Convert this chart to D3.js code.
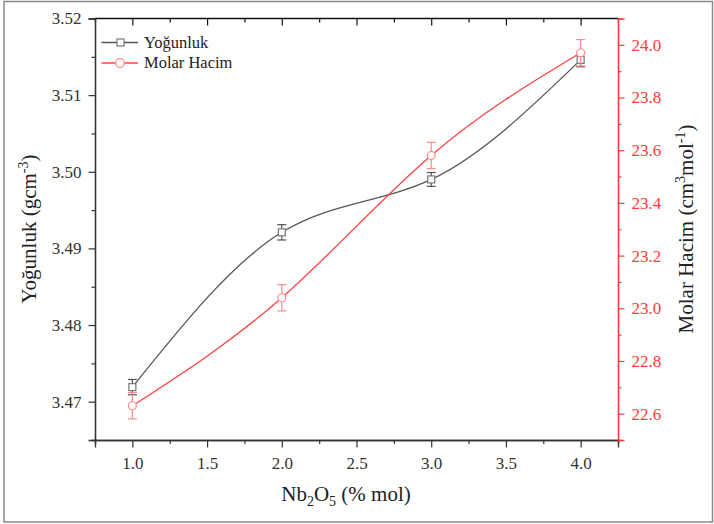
<!DOCTYPE html>
<html>
<head>
<meta charset="utf-8">
<script src="https://cdn.jsdelivr.net/npm/d3@7/dist/d3.min.js"></script>
<style>
  html, body { margin: 0; padding: 0; background: #fff; }
  svg { display: block; }
</style>
</head>
<body>
<svg id="chart" width="714" height="524" font-family="Liberation Serif, Tinos, DejaVu Serif, serif"></svg>
<script>
// Nb2O5 content (% mol)
const nb2o5 = [1, 2, 3, 4];
// Density (g cm^-3) with error
const density = [3.4719, 3.4921, 3.4990, 3.5146];
const densityErr = [0.0010, 0.0010, 0.0009, 0.0009];
// Molar volume (cm^3 mol^-1) with error
const molarVolume = [22.63, 23.04, 23.58, 23.97];
const molarVolumeErr = [0.05, 0.05, 0.05, 0.05];

// Tick values
const xTicks = [1.0, 1.5, 2.0, 2.5, 3.0, 3.5, 4.0];
const xMinor = [0.75, 1.25, 1.75, 2.25, 2.75, 3.25, 3.75, 4.25];
const yLeftTicks = [3.47, 3.48, 3.49, 3.50, 3.51, 3.52];
const yLeftMinor = [3.465, 3.475, 3.485, 3.495, 3.505, 3.515];
const yRightTicks = [22.6, 22.8, 23.0, 23.2, 23.4, 23.6, 23.8, 24.0];
const yRightMinor = [22.5, 22.7, 22.9, 23.1, 23.3, 23.5, 23.7, 23.9, 24.1];

const seriesNames = ["Yoğunluk", "Molar Hacim"];

const FONT = "Liberation Serif, Tinos, DejaVu Serif, serif";
const AXIS = "#333";
const GRAY_LINE = "#555";
const GRAY_MARK = "#777";
const RED_AXIS = "#ff3b3b";
const RED_LINE = "#ff4040";
const RED_MARK = "#ff8a8a";

const svg = d3.select("#chart");

// outer frame
svg.append("rect")
  .attr("x", 4).attr("y", 1.5).attr("width", 708.5).attr("height", 520.5)
  .attr("fill", "none").attr("stroke", "#8a8a8a").attr("stroke-width", 1.5);

const plot = { left: 95, right: 618, top: 18.5, bottom: 440 };

const x = d3.scaleLinear().domain([0.75, 4.25]).range([plot.left, plot.right]);
const yL = d3.scaleLinear().domain([3.465, 3.52]).range([plot.bottom, plot.top]);
const yR = d3.scaleLinear().domain([22.5, 24.1]).range([plot.bottom, plot.top]);

function styleAxis(g, color, fontSize) {
  g.attr("font-family", FONT).attr("font-size", fontSize);
  g.select(".domain").attr("stroke", color).attr("stroke-width", 1.3);
  g.selectAll(".tick line").attr("stroke", color).attr("stroke-width", 1.2);
  g.selectAll(".tick text").attr("fill", color);
}

// bottom axis
const gxMinor = svg.append("g").attr("transform", `translate(0,${plot.bottom})`)
  .call(d3.axisBottom(x).tickValues(xMinor).tickSize(4).tickFormat(""));
styleAxis(gxMinor, AXIS, 17);
const gx = svg.append("g").attr("transform", `translate(0,${plot.bottom})`)
  .call(d3.axisBottom(x).tickValues(xTicks).tickSize(7.5).tickPadding(9).tickFormat(d3.format(".1f")));
styleAxis(gx, AXIS, 17);

// top axis (inward ticks, no labels)
const gtMinor = svg.append("g").attr("transform", `translate(0,${plot.top})`)
  .call(d3.axisBottom(x).tickValues(xMinor).tickSize(4).tickFormat(""));
styleAxis(gtMinor, "#111", 17);
const gt = svg.append("g").attr("transform", `translate(0,${plot.top})`)
  .call(d3.axisBottom(x).tickValues(xTicks).tickSize(7).tickFormat(""));
styleAxis(gt, "#111", 17);
gt.select(".domain").remove();
gtMinor.select(".domain").attr("d", `M${plot.left},0H${plot.right}`);

// left axis
const glMinor = svg.append("g").attr("transform", `translate(${plot.left},0)`)
  .call(d3.axisLeft(yL).tickValues(yLeftMinor).tickSize(3.5).tickFormat(""));
styleAxis(glMinor, AXIS, 17);
const gl = svg.append("g").attr("transform", `translate(${plot.left},0)`)
  .call(d3.axisLeft(yL).tickValues(yLeftTicks).tickSize(6.5).tickPadding(7).tickFormat(d3.format(".2f")));
styleAxis(gl, AXIS, 17);

// right axis
const grMinor = svg.append("g").attr("transform", `translate(${plot.right},0)`)
  .call(d3.axisRight(yR).tickValues(yRightMinor).tickSize(3.5).tickFormat(""));
styleAxis(grMinor, RED_AXIS, 17);
const gr = svg.append("g").attr("transform", `translate(${plot.right},0)`)
  .call(d3.axisRight(yR).tickValues(yRightTicks).tickSize(6.5).tickPadding(7).tickFormat(d3.format(".1f")));
styleAxis(gr, RED_AXIS, 17);

// axis titles
const xTitle = svg.append("text")
  .attr("x", 346).attr("y", 501)
  .attr("text-anchor", "middle")
  .attr("fill", "#222")
  .attr("font-size", 21);
xTitle.append("tspan").text("Nb");
xTitle.append("tspan").attr("dy", 5).attr("font-size", 14).text("2");
xTitle.append("tspan").attr("dy", -5).text("O");
xTitle.append("tspan").attr("dy", 5).attr("font-size", 14).text("5");
xTitle.append("tspan").attr("dy", -5).text(" (% mol)");

const yLTitle = svg.append("text")
  .attr("transform", `translate(36,229) rotate(-90)`)
  .attr("text-anchor", "middle")
  .attr("fill", "#222")
  .attr("font-size", 21);
yLTitle.append("tspan").text("Yoğunluk (gcm");
yLTitle.append("tspan").attr("dy", -8).attr("font-size", 14).text("-3");
yLTitle.append("tspan").attr("dy", 8).text(")");

const yRTitle = svg.append("text")
  .attr("transform", `translate(693,229) rotate(-90)`)
  .attr("text-anchor", "middle")
  .attr("fill", "#222")
  .attr("font-size", 21);
yRTitle.append("tspan").text("Molar Hacim (cm");
yRTitle.append("tspan").attr("dy", -8).attr("font-size", 14).text("3");
yRTitle.append("tspan").attr("dy", 8).text("mol");
yRTitle.append("tspan").attr("dy", -8).attr("font-size", 14).text("-1");
yRTitle.append("tspan").attr("dy", 8).text(")");

// series
const line = (ys) => d3.line().curve(d3.curveNatural)
  .x((d, i) => x(nb2o5[i])).y(d => ys(d));

function errorBars(vals, errs, ys, color) {
  const g = svg.append("g").attr("stroke", color).attr("stroke-width", 1.2).attr("fill", "none");
  vals.forEach((v, i) => {
    const cx = x(nb2o5[i]);
    const y1 = ys(v + errs[i]), y0 = ys(v - errs[i]);
    g.append("line").attr("x1", cx).attr("x2", cx).attr("y1", y1).attr("y2", y0);
    g.append("line").attr("x1", cx - 4.5).attr("x2", cx + 4.5).attr("y1", y1).attr("y2", y1);
    g.append("line").attr("x1", cx - 4.5).attr("x2", cx + 4.5).attr("y1", y0).attr("y2", y0);
  });
}

// density (black series)
svg.append("path").datum(density)
  .attr("d", line(yL))
  .attr("fill", "none").attr("stroke", GRAY_LINE).attr("stroke-width", 1.3);
errorBars(density, densityErr, yL, GRAY_LINE);
svg.append("g").selectAll("rect").data(density).join("rect")
  .attr("x", (d, i) => x(nb2o5[i]) - 3.5).attr("y", d => yL(d) - 3.5)
  .attr("width", 7).attr("height", 7)
  .attr("fill", "#fff").attr("stroke", GRAY_MARK).attr("stroke-width", 1.2);

// molar volume (red series)
svg.append("path").datum(molarVolume)
  .attr("d", line(yR))
  .attr("fill", "none").attr("stroke", RED_LINE).attr("stroke-width", 1.3);
errorBars(molarVolume, molarVolumeErr, yR, RED_MARK);
svg.append("g").selectAll("circle").data(molarVolume).join("circle")
  .attr("cx", (d, i) => x(nb2o5[i])).attr("cy", d => yR(d)).attr("r", 4)
  .attr("fill", "#fff").attr("stroke", RED_MARK).attr("stroke-width", 1.2);

// legend
const legend = svg.append("g");
const legendRows = [
  { name: seriesNames[0], line: GRAY_LINE, mark: GRAY_MARK, shape: "square", y: 42.5 },
  { name: seriesNames[1], line: RED_LINE, mark: RED_MARK, shape: "circle", y: 63 }
];
legendRows.forEach(r => {
  legend.append("line").attr("x1", 101.5).attr("x2", 138).attr("y1", r.y).attr("y2", r.y)
    .attr("stroke", r.line).attr("stroke-width", 1.3);
  if (r.shape === "square") {
    legend.append("rect").attr("x", 117).attr("y", r.y - 3.5).attr("width", 7).attr("height", 7)
      .attr("fill", "#fff").attr("stroke", r.mark).attr("stroke-width", 1.2);
  } else {
    legend.append("circle").attr("cx", 120).attr("cy", r.y).attr("r", 4.3)
      .attr("fill", "#fff").attr("stroke", r.mark).attr("stroke-width", 1.2);
  }
  legend.append("text").attr("x", 144).attr("y", r.y + 5)
    .attr("fill", "#222").attr("font-size", 16.5).text(r.name);
});
</script>
</body>
</html>
